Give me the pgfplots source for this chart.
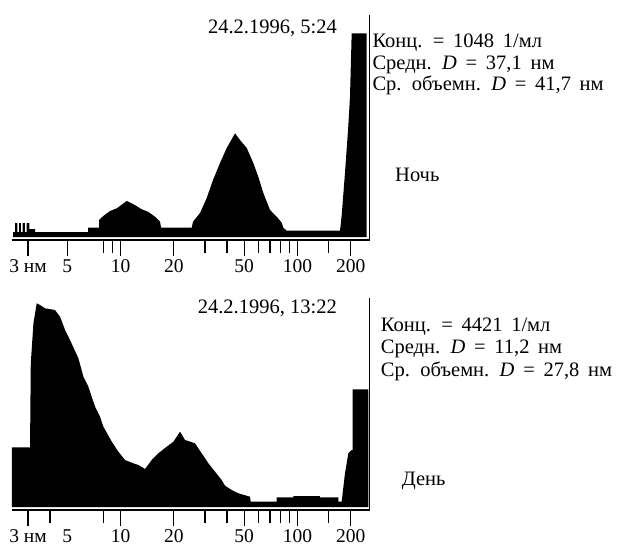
\documentclass[border=0pt]{standalone}
\usepackage{fontspec}
\setmainfont{Liberation Serif}
\newfontfamily\wide{Liberation Serif}[WordSpace=1.7]
\usepackage{pgfplots}
\pgfplotsset{compat=1.18}

\newcommand\lbl{\fontsize{19.5}{21}\selectfont}
\newcommand\ttl{\fontsize{20.5}{22}\selectfont}
\newcommand\txt{\wide\fontsize{20.5}{22}\selectfont}

\pgfplotsset{
  psd/.style={
    scale only axis, width=358pt,
    xmin=2.42, xmax=255.2, ymin=0,
    axis x line=bottom, axis y line=right, axis line style={-},
    x axis line style={line width=2.5pt},
    y axis line style={line width=1.6pt},
    ytick=\empty,
    tick align=outside,
    major tick length=16pt, minor tick length=13pt,
    tick style={black, line width=1.3pt},
    xticklabel style={font=\lbl},
    clip=false,
  }
}

\begin{document}
\begin{tikzpicture}
\useasboundingbox (0,0) rectangle (617pt,550pt);

% night
\begin{axis}[xmode=log, psd, at={(11.5pt,310pt)}, anchor=south west, height=225pt, ymax=225,
  xtick={3,5,10,20,50,100,200},
  xticklabels={3 нм,5,10,20,50,100,200},
  minor xtick={8,9,30,40,60,70,80,90,150}]
\addplot[fill=black, draw=none] coordinates {
 (2.47,3) (2.47,8) (2.535,8) (2.535,17) (2.61,17) (2.61,8) (2.67,8) (2.67,17)
 (2.73,17) (2.73,8) (2.80,8) (2.80,17) (2.88,17) (2.88,8) (2.95,8) (2.95,17)
 (3.05,17) (3.05,11) (3.29,11) (3.29,8) (6.55,8) (6.55,12.3) (7.56,12.3)
 (7.56,20) (7.99,24) (8.72,29) (9.52,31.7) (10.84,39) (11.77,36) (13.18,30.7)
 (14.30,28.3) (15.66,23.3) (16.72,18.3) (16.94,12.3) (25.26,12.3) (25.68,18.3)
 (28.13,27) (30.69,42) (33.31,60) (36.49,77) (39.81,92) (44.37,106.7)
 (47.33,100) (51.64,92) (56.27,77) (60.04,63.3) (64.11,47) (69.93,30)
 (76.28,23.3) (81.42,17.3) (83.15,12.3) (86.9,9.3) (173.9,9.3) (177.8,25)
 (185.5,67) (193.6,113.3) (198.0,143.3) (202.4,206.7) (246.0,206.7) (246.0,3)
};
\end{axis}

% day
\begin{axis}[xmode=log, psd, at={(11.5pt,40pt)}, anchor=south west, height=212pt, ymax=212,
  xtick={3,10,20,50,100,200},
  xticklabels={3 нм,10,20,50,100,200},
  minor xtick={4,8,30,40,60,70,80,90,150},
  extra x ticks={5}, extra x tick labels={5},
  extra x tick style={major tick length=0pt, xticklabel style={yshift=-16pt}}]
\addplot[fill=black, draw=none] coordinates {
 (2.43,3) (2.43,62.7) (3.08,62.7) (3.11,146.7) (3.22,186.7) (3.36,206.7)
 (3.51,205) (3.74,201.7) (4.26,200) (4.55,193.3) (4.86,180) (5.18,170)
 (5.78,151.7) (6.17,133.3) (6.58,123.3) (7.18,103.3) (7.66,93.3) (8.00,83.3)
 (8.92,68.3) (9.72,58.3) (10.60,50) (11.56,47.3) (12.61,45) (13.75,41)
 (15.00,50) (16.36,56.7) (18.23,63.3) (19.89,68.3) (21.69,78.3) (23.14,70)
 (26.36,66.7) (28.75,56.7) (31.36,46.7) (34.20,38.3) (37.29,30) (38.95,24.3)
 (42.48,20) (46.33,16.7) (53.90,13.3) (54.37,8.3) (76.26,8.3) (76.26,12.7)
 (94.73,12.7) (94.73,14) (134.0,14) (134.0,12.7) (170.1,12.7) (170.1,8.3)
 (177.7,8.3) (185.5,36.7) (193.8,56.7) (202.3,60) (205.0,60) (205.0,120.7)
 (251.3,120.7) (251.3,3)
};
\end{axis}

\begin{scope}[every node/.style={font=\txt, inner sep=0pt}]
\node[anchor=base east, font=\ttl] at (337pt,516pt) {24.2.1996, 5:24};
\node[anchor=base west] at (372.3pt,502.3pt) {Конц. = 1048 1/мл};
\node[anchor=base west] at (372.3pt,480.7pt) {Средн. \textit{D} = 37,1 нм};
\node[anchor=base west] at (372.3pt,459.3pt) {Ср. объемн. \textit{D} = 41,7 нм};
\node[anchor=base west] at (395pt,368.3pt) {Ночь};

\node[anchor=base east, font=\ttl] at (337pt,236.7pt) {24.2.1996, 13:22};
\node[anchor=base west] at (380.7pt,218.3pt) {Конц. = 4421 1/мл};
\node[anchor=base west] at (380.7pt,196.7pt) {Средн. \textit{D} = 11,2 нм};
\node[anchor=base west] at (380.7pt,174pt) {Ср. объемн. \textit{D} = 27,8 нм};
\node[anchor=base west] at (401.7pt,65pt) {День};
\end{scope}
\end{tikzpicture}
\end{document}
